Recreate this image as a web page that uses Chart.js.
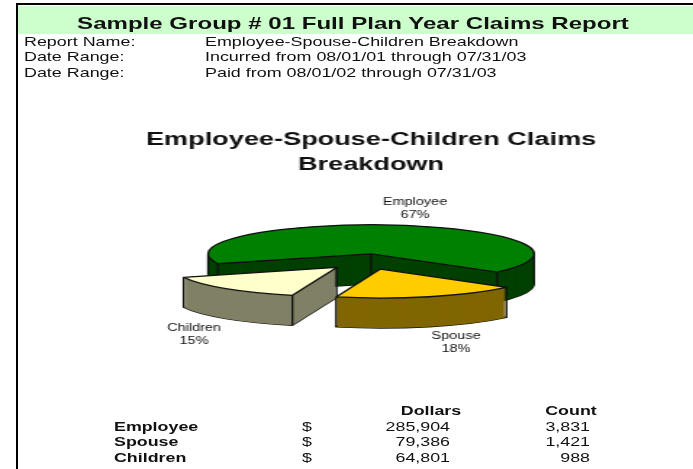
<!DOCTYPE html>
<html><head><meta charset="utf-8">
<script src="https://cdn.jsdelivr.net/npm/chart.js@4"></script>
<style>
html,body{margin:0;padding:0;background:#fff;width:693px;height:469px;overflow:hidden}
#page{position:absolute;left:0;top:0;width:693px;height:469px;filter:blur(0.5px);overflow:hidden}
#stretch{position:absolute;left:0;top:0;width:478px;height:469px;transform:scaleX(1.45);transform-origin:0 0;font-family:"Liberation Sans",Arial,sans-serif;color:#111}
#frameTop{position:absolute;left:16px;top:3px;width:677px;height:2px;background:#000}
#frameLeft{position:absolute;left:16px;top:3px;width:2px;height:466px;background:#000}
#band{position:absolute;left:18px;top:6px;width:675px;height:28px;background:#ccffcc}
.t{position:absolute;white-space:pre;line-height:1}
canvas{position:absolute;left:0;top:0}
</style></head><body>
<div id="page">
<div id="band"></div><div id="frameTop"></div><div id="frameLeft"></div>
<div id="stretch">
<div id="texts"></div>
<canvas id="c" width="478" height="469"></canvas>
</div></div>
<script>
const reportTitle = "Sample Group # 01 Full Plan Year Claims Report";
const metaLabels = ["Report Name:", "Date Range:", "Date Range:"];
const metaValues = ["Employee-Spouse-Children Breakdown", "Incurred from 08/01/01 through 07/31/03", "Paid from 08/01/02 through 07/31/03"];
const chartTitle = ["Employee-Spouse-Children Claims", "Breakdown"];
const categories = ["Employee", "Spouse", "Children"];
const dollars = [285904, 79386, 64801];
const counts = [3831, 1421, 988];
const percentLabels = ["67%", "18%", "15%"];
const topColors = ["#008000", "#ffcc00", "#ffffcc"];
const wallColors = ["#004000", "#806600", "#808066"];

const S = 1.45;
const box = document.getElementById('texts');
function put(text, xPx, yPx, size, bold, align){
  const d = document.createElement('div');
  d.className = 't'; d.textContent = text;
  d.style.top = yPx + 'px'; d.style.fontSize = size + 'px';
  if (bold) d.style.fontWeight = 'bold';
  if (align === 'right') { d.style.right = (478 - xPx / S) + 'px'; }
  else if (align === 'center') { d.style.left = (xPx / S) + 'px'; d.style.transform = 'translateX(-50%)'; }
  else d.style.left = (xPx / S) + 'px';
  box.appendChild(d);
}
put(reportTitle, 353, 15.5, 16.6, true, 'center');
metaLabels.forEach((s, i) => put(s, 24, 36 + i * 15.3, 12.35));
metaValues.forEach((s, i) => put(s, 205, 36 + i * 15.3, 12.35));
put("Dollars", 431, 405, 12.3, true, 'center');
put("Count", 571, 405, 12.3, true, 'center');
categories.forEach((s, i) => {
  const y = 420.5 + i * 15.5;
  put(s, 114, y, 12.3, true);
  put("$", 302, y, 12.3);
  put(dollars[i].toLocaleString('en-US'), 450, y, 12.3, false, 'right');
  put(counts[i].toLocaleString('en-US'), 590, y, 12.3, false, 'right');
});

const explode = [0, 0.19, 0.31];   // fraction of radius, along each slice's middle
const drop = [0, 10, 7];           // extra downward shift of a pulled-out slice
const depth = 30, radiusX = 163 / S, radiusY = 29;
const labelSpots = [[415, 202], [456, 336], [194, 328]];

function path(ctx, a, cx, cy, rx, ry){
  ctx.beginPath();
  ctx.moveTo(cx, cy);
  ctx.ellipse(cx, cy, rx, ry, 0, a.startAngle, a.endAngle);
  ctx.closePath();
}
const pie3d = {
  id: 'pie3d',
  beforeDatasetsDraw(chart){
    const ctx = chart.ctx, arcs = chart.getDatasetMeta(0).data;
    arcs.forEach((a, i) => {
      const mid = (a.startAngle + a.endAngle) / 2;
      const cx = a.x + Math.cos(mid) * explode[i] * radiusX;
      const cy = a.y + Math.sin(mid) * explode[i] * radiusY + drop[i];
      ctx.save();
      ctx.lineJoin = 'round';
      path(ctx, a, cx, cy + depth, radiusX, radiusY);
      ctx.fillStyle = wallColors[i]; ctx.strokeStyle = '#111'; ctx.lineWidth = 1.3;
      ctx.fill(); ctx.stroke();
      ctx.fillStyle = wallColors[i];
      for (let d = depth; d >= 0; d--) { path(ctx, a, cx, cy + d, radiusX, radiusY); ctx.fill(); }
      const ends = [[cx, cy]];
      [a.startAngle, a.endAngle].forEach(t => ends.push([cx + Math.cos(t) * radiusX, cy + Math.sin(t) * radiusY]));
      [Math.PI, 2 * Math.PI].forEach(t => { if (t > a.startAngle && t < a.endAngle) ends.push([cx + Math.cos(t) * radiusX, cy]); });
      ctx.beginPath();
      ends.forEach(p => { ctx.moveTo(p[0], p[1]); ctx.lineTo(p[0], p[1] + depth); });
      ctx.stroke();
      ctx.save();
      ctx.translate(cx, cy);
      ctx.scale(radiusX / a.outerRadius, radiusY / a.outerRadius);
      ctx.translate(-a.x, -a.y);
      a.draw(ctx);
      ctx.restore();
      path(ctx, a, cx, cy, radiusX, radiusY);
      ctx.stroke();
      ctx.restore();
    });
    ctx.save();
    ctx.fillStyle = '#111'; ctx.font = '10px "Liberation Sans"'; ctx.textAlign = 'center'; ctx.textBaseline = 'middle';
    categories.forEach((s, i) => {
      ctx.fillText(s, labelSpots[i][0] / S, labelSpots[i][1]);
      ctx.fillText(percentLabels[i], labelSpots[i][0] / S, labelSpots[i][1] + 13);
    });
    ctx.restore();
    return false;
  }
};
new Chart(document.getElementById('c'), {
  type: 'pie',
  data: { labels: categories, datasets: [{ data: dollars, backgroundColor: topColors, borderWidth: 0, hoverOffset: 0 }] },
  options: {
    responsive: false, animation: false, rotation: 250,
    layout: { padding: { left: 40, right: 6.2, top: 0, bottom: 141 } },
    plugins: {
      legend: { display: false }, tooltip: { enabled: false },
      title: { display: true, text: chartTitle, color: '#111', align: 'center',
        font: { family: '"Liberation Sans"', size: 18.7, weight: 'bold', lineHeight: 1.3 }, padding: { top: 128, bottom: 3 } }
    }
  },
  plugins: [pie3d]
});
</script>
</body></html>
